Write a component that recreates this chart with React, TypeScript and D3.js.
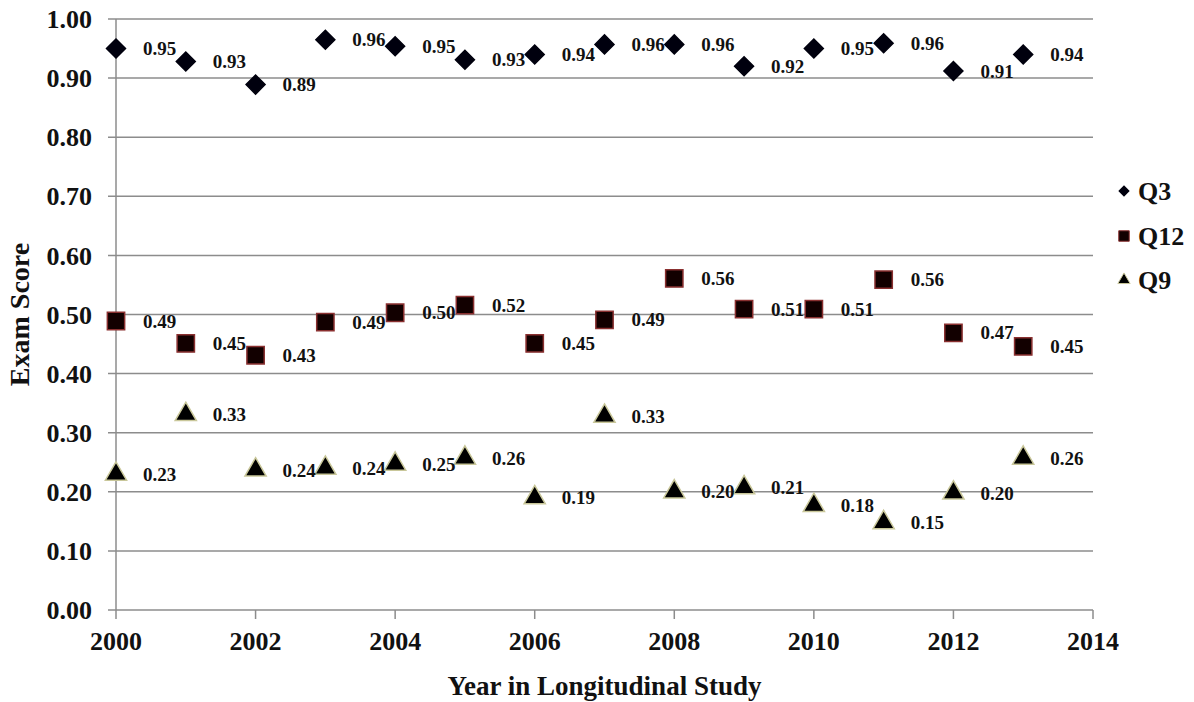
import React from 'react';
import * as d3 from 'd3';

const years = [2000, 2001, 2002, 2003, 2004, 2005, 2006, 2007, 2008, 2009, 2010, 2011, 2012, 2013];
const q3 = [0.95, 0.928, 0.889, 0.965, 0.954, 0.931, 0.94, 0.957, 0.957, 0.92, 0.95, 0.959, 0.912, 0.94];
const q12 = [0.489, 0.451, 0.431, 0.487, 0.503, 0.516, 0.451, 0.491, 0.561, 0.509, 0.509, 0.559, 0.469, 0.446];
const q9 = [0.23, 0.331, 0.237, 0.24, 0.247, 0.257, 0.19, 0.328, 0.2, 0.207, 0.177, 0.148, 0.198, 0.257];
const yTicks = [0, 0.1, 0.2, 0.3, 0.4, 0.5, 0.6, 0.7, 0.8, 0.9, 1.0];
const xTicks = [2000, 2002, 2004, 2006, 2008, 2010, 2012, 2014];

const font = '"Liberation Serif", "Times New Roman", serif';

export default function App() {
  const width = 1194;
  const height = 702;
  const x = d3.scaleLinear().domain([2000, 2014]).range([116, 1093]);
  const y = d3.scaleLinear().domain([0, 1]).range([610, 19]);
  const fmt = d3.format('.2f');

  const series = [
    { name: 'Q3', values: q3, type: d3.symbolSquare, size: 180, rotate: 45, fill: '#00000e', stroke: '#00000e', legendSize: 50 },
    { name: 'Q12', values: q12, type: d3.symbolSquare, size: 300, rotate: 0, fill: '#120000', stroke: '#8a3030', legendSize: 110 },
    { name: 'Q9', values: q9, type: d3.symbolTriangle, size: 195, rotate: 0, fill: '#000000', stroke: '#c9c79a', legendSize: 65 },
  ];

  const legendY = [191, 236, 280];

  return (
    <svg width={width} height={height} style={{ position: 'absolute', left: 0, top: 0, background: '#fff' }} fontFamily={font}>
      {/* grid lines */}
      {yTicks.map((t) => (
        <g key={`g-${t}`}>
          <line x1={108} x2={x(2014)} y1={y(t)} y2={y(t)} stroke="#8c8c8c" strokeWidth={1.5} />
          <text x={92} y={y(t)} dy="0.35em" textAnchor="end" fontSize={26} fontWeight="bold" fill="#111">
            {fmt(t)}
          </text>
        </g>
      ))}
      {/* y axis */}
      <line x1={x(2000)} x2={x(2000)} y1={y(1)} y2={y(0)} stroke="#8c8c8c" strokeWidth={1.5} />
      {/* x ticks */}
      {xTicks.map((t) => (
        <g key={`x-${t}`}>
          <line x1={x(t)} x2={x(t)} y1={y(0)} y2={y(0) + 9} stroke="#8c8c8c" strokeWidth={1.5} />
          <text x={x(t)} y={y(0) + 40} textAnchor="middle" fontSize={26} fontWeight="bold" fill="#111">
            {t}
          </text>
        </g>
      ))}

      {/* axis titles */}
      <text x={(x(2000) + x(2014)) / 2} y={695} textAnchor="middle" fontSize={27} fontWeight="bold" fill="#111">
        Year in Longitudinal  Study
      </text>
      <text transform={`translate(29, ${(y(0) + y(1)) / 2}) rotate(-90)`} textAnchor="middle" fontSize={28} fontWeight="bold" fill="#111">
        Exam Score
      </text>

      {/* series markers and labels */}
      {series.map((s) => {
        const path = d3.symbol().type(s.type).size(s.size)() || '';
        return (
          <g key={s.name}>
            {s.values.map((v, i) => (
              <path
                key={`m-${s.name}-${i}`}
                d={path}
                transform={`translate(${x(years[i])}, ${y(v)}) rotate(${s.rotate})`}
                fill={s.fill}
                stroke={s.stroke}
                strokeWidth={1.5}
              />
            ))}
            {s.values.map((v, i) => (
              <text
                key={`l-${s.name}-${i}`}
                x={x(years[i]) + 27}
                y={y(v)}
                dy="0.35em"
                fontSize={19}
                fontWeight="bold"
                fill="#111"
              >
                {fmt(v)}
              </text>
            ))}
          </g>
        );
      })}

      {/* legend */}
      {series.map((s, i) => {
        const path = d3.symbol().type(s.type).size(s.legendSize)() || '';
        return (
          <g key={`leg-${s.name}`} transform={`translate(1124, ${legendY[i]})`}>
            <path d={path} transform={`rotate(${s.rotate})`} fill={s.fill} stroke={s.stroke} strokeWidth={1} />
            <text x={14} y={0} dy="0.35em" fontSize={26} fontWeight="bold" fill="#111">
              {s.name}
            </text>
          </g>
        );
      })}
    </svg>
  );
}
